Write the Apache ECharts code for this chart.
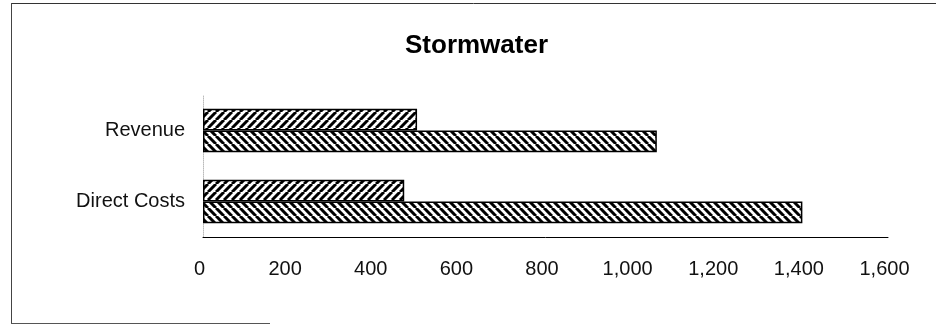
<!DOCTYPE html>
<html>
<head>
<meta charset="utf-8">
<script src="https://cdn.jsdelivr.net/npm/echarts@6/dist/echarts.min.js"></script>
<style>
html,body{margin:0;padding:0;background:#fff;}
#chart{width:936px;height:325px;}
</style>
</head>
<body>
<div id="chart"></div>
<script>
// Data (categories listed bottom-to-top as ECharts draws a category y-axis)
var categories = ['Direct Costs', 'Revenue'];
var seriesUpper = [470, 500];     // "/" hatched bars (upper bar in each group)
var seriesLower = [1400, 1060];   // "\" hatched bars (lower bar in each group)
var xTicks = [0, 200, 400, 600, 800, 1000, 1200, 1400, 1600];

function makeHatch(dir) {
  var s = 8;
  var c = document.createElement('canvas');
  c.width = s; c.height = s;
  var g = c.getContext('2d');
  g.fillStyle = '#fff';
  g.fillRect(0, 0, s, s);
  g.strokeStyle = '#000';
  g.lineWidth = 3.0;
  g.beginPath();
  for (var k = -1; k <= 1; k++) {
    if (dir === '/') {
      g.moveTo(k * s, s); g.lineTo(k * s + s, 0);
    } else {
      g.moveTo(k * s, 0); g.lineTo(k * s + s, s);
    }
  }
  g.stroke();
  return { image: c, repeat: 'repeat' };
}

var chart = echarts.init(document.getElementById('chart'), null, { renderer: 'canvas' });
var font = "'Liberation Sans', Arial, sans-serif";
chart.setOption({
  backgroundColor: '#fff',
  animation: false,
  title: {
    text: 'Stormwater',
    left: 400,
    top: 28,
    textStyle: { fontFamily: font, fontSize: 26, fontWeight: 'bold', color: '#000' }
  },
  graphic: [
    { type: 'line', shape: { x1: 11, y1: 3.5, x2: 936, y2: 3.5 }, style: { stroke: '#333', lineWidth: 1 }, silent: true },
    { type: 'line', shape: { x1: 11.5, y1: 3, x2: 11.5, y2: 324 }, style: { stroke: '#444', lineWidth: 1 }, silent: true },
    { type: 'line', shape: { x1: 11, y1: 323.5, x2: 270, y2: 323.5 }, style: { stroke: '#555', lineWidth: 1 }, silent: true }
  ],
  grid: { left: 203, right: 48, top: 95, bottom: 88, containLabel: false },
  xAxis: {
    type: 'value',
    min: xTicks[0],
    max: xTicks[xTicks.length - 1],
    interval: 200,
    axisLine: { show: true, lineStyle: { color: '#000', width: 1 } },
    axisTick: { show: false },
    splitLine: { show: false },
    axisLabel: {
      fontFamily: font, fontSize: 20, color: '#111', margin: 22,
      padding: [0, 7, 0, 0],
      formatter: function (v) { return v.toLocaleString('en-US'); }
    }
  },
  yAxis: {
    type: 'category',
    data: categories,
    axisLine: { show: true, lineStyle: { color: '#bbb', width: 1, type: 'dotted' } },
    axisTick: { show: false },
    axisLabel: { fontFamily: font, fontSize: 20, color: '#111', margin: 18 }
  },
  series: [
    {
      name: 'Upper',
      type: 'bar',
      data: seriesUpper,
      barGap: '0%',
      barCategoryGap: '39%',
      itemStyle: { color: makeHatch('/'), borderColor: '#000', borderWidth: 1.5 }
    },
    {
      name: 'Lower',
      type: 'bar',
      data: seriesLower,
      barGap: '0%',
      barCategoryGap: '39%',
      itemStyle: { color: makeHatch('\\'), borderColor: '#000', borderWidth: 1.5 }
    }
  ]
});
</script>
</body>
</html>
